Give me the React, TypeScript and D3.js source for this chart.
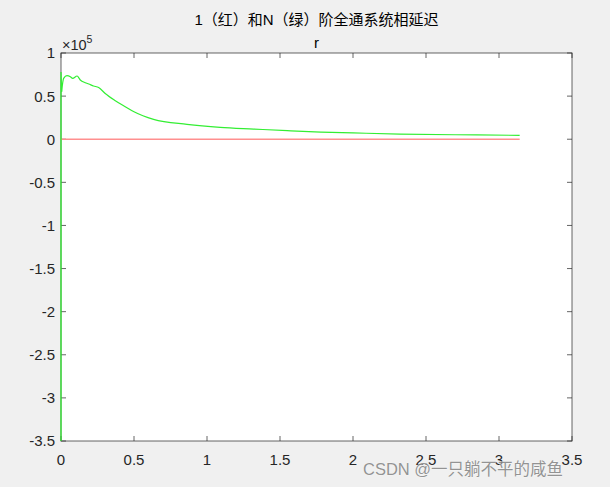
import React from "react";
import * as d3 from "d3";

const W = 610;
const H = 487;

// x (rad), values in units of 1e5
const greenX = [0, 0, 0.004, 0.018, 0.041, 0.064, 0.08, 0.11, 0.132, 0.166, 0.19, 0.223, 0.258, 0.303, 0.372, 0.44, 0.5, 0.634, 0.863, 1.09, 1.32, 1.55, 1.78, 2.0, 2.32, 2.7, 3.1416];
const greenY = [-3.6, 0.78, 0.55, 0.706, 0.737, 0.725, 0.706, 0.733, 0.687, 0.655, 0.64, 0.617, 0.6, 0.53, 0.447, 0.377, 0.318, 0.23, 0.173, 0.138, 0.118, 0.099, 0.083, 0.073, 0.06, 0.052, 0.045];
const redX = [0, 3.1416];
const redY = [0, 0];

const xTicks = [0, 0.5, 1, 1.5, 2, 2.5, 3, 3.5];
const yTicks = [1, 0.5, 0, -0.5, -1, -1.5, -2, -2.5, -3, -3.5];

const title = "1（红）和N（绿）阶全通系统相延迟";
const subtitle = "r";
const watermark = "CSDN @一只躺不平的咸鱼";

const L = 61, R = 572, T = 53, B = 441;

export default function App() {
  const x = d3.scaleLinear().domain([0, 3.5]).range([L, R]);
  const y = d3.scaleLinear().domain([-3.5, 1]).range([B, T]);
  const lin = d3
    .line<[number, number]>()
    .x((d) => x(d[0]))
    .y((d) => y(Math.max(-3.5, d[1])));
  const smooth = d3
    .line<[number, number]>()
    .x((d) => x(d[0]))
    .y((d) => y(d[1]))
    .curve(d3.curveMonotoneX);
  const green = greenX.map((v, i) => [v, greenY[i]] as [number, number]);
  const greenStem = green.slice(0, 3);
  const greenBody = green.slice(2);
  const red = redX.map((v, i) => [v, redY[i]] as [number, number]);
  const axisColor = "#262626";
  const font = "'Liberation Sans', Arial, 'Noto Sans CJK SC', sans-serif";
  return (
    <svg
      width={W}
      height={H}
      style={{ position: "absolute", left: 0, top: 0, background: "#f0f0f0" }}
      fontFamily={font}
    >
      <rect x={0} y={0} width={W} height={H} fill="#f0f0f0" />
      <rect x={L} y={T} width={R - L} height={B - T} fill="#ffffff" />
      <defs>
        <clipPath id="clip">
          <rect x={L - 2} y={T} width={R - L + 2} height={B - T} />
        </clipPath>
      </defs>
      {/* box */}
      <rect x={L} y={T} width={R - L} height={B - T} fill="none" stroke={axisColor} strokeWidth={1} opacity={0.7} />
      {xTicks.map((t) => (
        <g key={"x" + t}>
          <line x1={x(t)} x2={x(t)} y1={B} y2={B - 5} stroke={axisColor} opacity={0.7} />
          <line x1={x(t)} x2={x(t)} y1={T} y2={T + 5} stroke={axisColor} opacity={0.7} />
          <text x={x(t)} y={465} textAnchor="middle" fontSize={15} fill={axisColor}>
            {t}
          </text>
        </g>
      ))}
      {yTicks.map((t) => (
        <g key={"y" + t}>
          <line x1={L} x2={L + 5} y1={y(t)} y2={y(t)} stroke={axisColor} opacity={0.7} />
          <line x1={R} x2={R - 5} y1={y(t)} y2={y(t)} stroke={axisColor} opacity={0.7} />
          <text x={55} y={y(t)} dy="0.36em" textAnchor="end" fontSize={15} fill={axisColor}>
            {t}
          </text>
        </g>
      ))}
      <g clipPath="url(#clip)">
        <path d={lin(red) || ""} fill="none" stroke="#ff8f8f" strokeWidth={1.6} />
        <path d={lin(greenStem) || ""} fill="none" stroke="#33ee33" strokeWidth={1.3} />
        <path d={smooth(greenBody) || ""} fill="none" stroke="#33ee33" strokeWidth={1.2} />
      </g>
      <text x={62} y={50} fontSize={14.5} fill={axisColor}>
        ×10
        <tspan dy={-7} fontSize={10.5}>5</tspan>
      </text>
      <text x={(L + R) / 2} y={25} textAnchor="middle" fontSize={15} fill="#000">
        {title}
      </text>
      <text x={(L + R) / 2} y={48} textAnchor="middle" fontSize={15} fill="#000">
        {subtitle}
      </text>
      <text
        x={363}
        y={475}
        fontSize={16.5}
        fill="#8a8a8a"
        stroke="#ffffff"
        strokeWidth={0.6}
        paintOrder="stroke"
        opacity={0.9}
      >
        {watermark}
      </text>
    </svg>
  );
}
